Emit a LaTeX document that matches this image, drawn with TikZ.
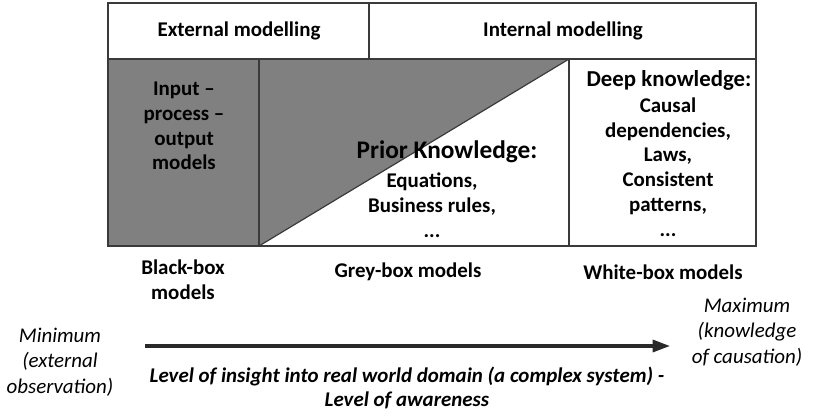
\documentclass[tikz,border=0pt]{standalone}
\usepackage{fontspec}
\setmainfont{Carlito}
\usepackage{xcolor}
\definecolor{BoxGrey}{HTML}{808080}
\definecolor{EdgeGrey}{HTML}{3A3A3A}
\usepackage{tikz}
\usetikzlibrary{arrows.meta, positioning}

\begin{document}
\begin{tikzpicture}[
        x=0.75pt, y=-0.75pt,
        cell/.style={draw=EdgeGrey, line width=1.3pt},
        txt/.style={align=center, inner sep=0pt,
                    font=\fontsize{15.7}{18.6}\selectfont\bfseries},
        bigtxt/.style={txt, font=\fontsize{17.1}{19}\selectfont\bfseries},
        sidetxt/.style={align=center, inner sep=0pt,
                        font=\fontsize{15.7}{19}\selectfont\itshape},
        >={Triangle[length=13pt, width=9pt]}
      ]
        \useasboundingbox (0,0) rectangle (814,420);
        % Header row
        \draw[cell] (108,3) rectangle (369,59);
        \draw[cell] (369,3) rectangle (756,59);
        % Model cells
        \fill[BoxGrey] (108,59) rectangle (259,246);
        \fill[BoxGrey] (259,59) -- (569,59) -- (259,246) -- cycle;
        \draw[draw=EdgeGrey, line width=0.9pt] (259,246) -- (569,59);
        \draw[cell] (108,59) rectangle (756,246);
        \draw[cell] (259,59) -- (259,246);
        \draw[cell] (569,59) -- (569,246);
        % Header texts
        \node[txt] (extmod) at (239,31) {External modelling};
        \node[txt] (intmod) at (563,31) {Internal modelling};
        % Cell texts
        \node[txt] (ipo) at (184,126) {Input --\\process --\\output\\models};
        \node[bigtxt, font=\fontsize{19}{21}\selectfont\bfseries] (priorhead)
          at (447,152) {Prior Knowledge:};
        \node[txt] (priorbody) at (432,205) {Equations,\\Business rules,\\...};
        \node[bigtxt] (deephead) at (669,80) {Deep knowledge:};
        \node[txt] (deepbody) at (668,167)
          {Causal\\dependencies,\\Laws,\\Consistent\\patterns,\\...};
        % Model labels
        \foreach \nm/\px/\py/\lbl in {blackbox/183/280/{Black-box\\models},
                                      greybox/408/272/{Grey-box models},
                                      whitebox/663/272/{White-box models}}{
          \node[txt] (\nm) at (\px,\py) {\lbl};
        }
        % Axis
        \node[sidetxt] (minlbl) at (60,362) {Minimum\\(external\\observation)};
        \node[sidetxt] (maxlbl) at (747,332) {Maximum\\(knowledge\\of causation)};
        \coordinate (axisstart) at (145,346);
        \coordinate (axisend) at (670,346);
        \draw[->, line width=2.4pt, EdgeGrey!70!black] (axisstart) -- (axisend);
        \node[sidetxt, font=\fontsize{15.7}{18.6}\selectfont\bfseries\itshape] (insight)
          at (407,388) {Level of insight into real world domain (a complex system) -\\Level of awareness};
      \end{tikzpicture}
\end{document}
